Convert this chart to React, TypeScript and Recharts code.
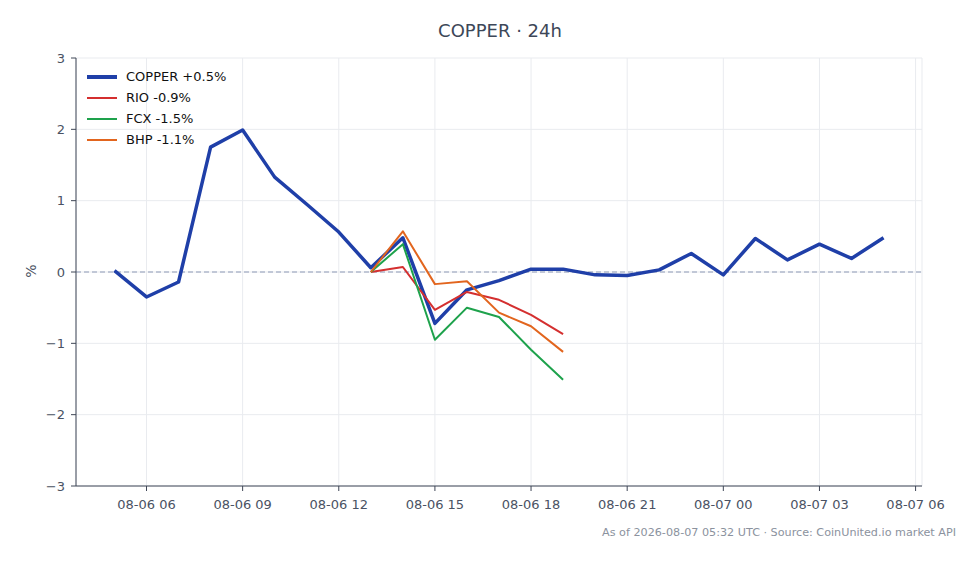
import React from "react";
import { LineChart, Line, XAxis, YAxis, CartesianGrid, ReferenceLine } from "recharts";

// hours since 08-06 00:00 UTC
const hours = [5, 6, 7, 8, 9, 10, 11, 12, 13, 14, 15, 16, 17, 18, 19, 20, 21, 22, 23, 24, 25, 26, 27, 28, 29];
const copper = [0.02, -0.35, -0.14, 1.75, 1.99, 1.33, 0.95, 0.56, 0.06, 0.48, -0.72, -0.25, -0.12, 0.04, 0.04, -0.04, -0.05, 0.03, 0.26, -0.04, 0.47, 0.17, 0.39, 0.19, 0.48];
const rio = [null, null, null, null, null, null, null, null, 0.0, 0.07, -0.53, -0.28, -0.39, -0.6, -0.87, null, null, null, null, null, null, null, null, null, null];
const fcx = [null, null, null, null, null, null, null, null, 0.0, 0.39, -0.95, -0.5, -0.63, -1.09, -1.51, null, null, null, null, null, null, null, null, null, null];
const bhp = [null, null, null, null, null, null, null, null, 0.0, 0.57, -0.17, -0.13, -0.57, -0.76, -1.12, null, null, null, null, null, null, null, null, null, null];

const xTicks = [6, 9, 12, 15, 18, 21, 24, 27, 30];
const xTickLabels = ["08-06 06", "08-06 09", "08-06 12", "08-06 15", "08-06 18", "08-06 21", "08-07 00", "08-07 03", "08-07 06"];
const yTicks = [-3, -2, -1, 0, 1, 2, 3];

const seriesNames = ["COPPER +0.5%", "RIO -0.9%", "FCX -1.5%", "BHP -1.1%"];
const seriesColors = ["#1f3fa8", "#d42f2f", "#1ea24c", "#e2651e"];
const seriesWidths = [3.5, 2, 2, 2];

const title = "COPPER · 24h";
const footer = "As of 2026-08-07 05:32 UTC · Source: CoinUnited.io market API";

const data = hours.map((h, i) => ({ h, copper: copper[i], rio: rio[i], fcx: fcx[i], bhp: bhp[i] }));
const keys = ["copper", "rio", "fcx", "bhp"];

const FONT = "'DejaVu Sans', sans-serif";
const TICK_COLOR = "#4a5263";

export default function App() {
  return (
    <div style={{ position: "absolute", left: 0, top: 0, width: 980, height: 564, background: "#fff", fontFamily: FONT }}>
      <LineChart width={980} height={564} data={data} margin={{ top: 58, right: 58, bottom: 48, left: 20 }}>
        <CartesianGrid stroke="#e9ebef" strokeWidth={1} />
        <XAxis
          dataKey="h"
          type="number"
          domain={[3.8, 30.2]}
          ticks={xTicks}
          tickFormatter={(v: number) => xTickLabels[xTicks.indexOf(v)] ?? ""}
          height={30}
          stroke="#3f4656"
          tickLine={{ stroke: "#3f4656" }}
          tickSize={5}
          tick={{ fill: TICK_COLOR, fontSize: 13, fontFamily: FONT }}
          tickMargin={9}
          allowDataOverflow
        />
        <YAxis
          type="number"
          domain={[-3, 3]}
          ticks={yTicks}
          width={56}
          tickFormatter={(v: number) => String(v).replace("-", "\u2212")}
          stroke="#3f4656"
          tickLine={{ stroke: "#3f4656" }}
          tickSize={5}
          tick={{ fill: TICK_COLOR, fontSize: 13, fontFamily: FONT }}
          tickMargin={6}
        />
        <ReferenceLine y={0} stroke="#8e9ab6" strokeDasharray="5 3" strokeWidth={1} />
        {keys.map((k, i) => (
          <Line
            key={k}
            dataKey={k}
            type="linear"
            stroke={seriesColors[i]}
            strokeWidth={seriesWidths[i]}
            dot={false}
            activeDot={false}
            isAnimationActive={false}
            connectNulls={false}
            strokeLinejoin="round"
          />
        ))}
      </LineChart>
      <div style={{ position: "absolute", left: 0, width: 1000, top: 20, textAlign: "center", fontSize: 18, color: "#3d4758", lineHeight: "22px" }}>
        {title}
      </div>
      <div style={{ position: "absolute", left: 22, top: 262, width: 18, height: 18, fontSize: 14, color: TICK_COLOR, transform: "rotate(-90deg)", lineHeight: "18px", textAlign: "center" }}>
        %
      </div>
      <div style={{ position: "absolute", right: 24, top: 525, fontSize: 11.2, color: "#8b929e", lineHeight: "16px", whiteSpace: "nowrap" }}>
        {footer}
      </div>
      <div style={{ position: "absolute", left: 87, top: 66 }}>
        {seriesNames.map((n, i) => (
          <div key={n} style={{ display: "flex", alignItems: "center", height: 21 }}>
            <div style={{ width: 30, height: seriesWidths[i] === 2 ? 2 : 4, background: seriesColors[i] }} />
            <div style={{ marginLeft: 9, fontSize: 13, color: "#111", lineHeight: "21px" }}>{n}</div>
          </div>
        ))}
      </div>
    </div>
  );
}
